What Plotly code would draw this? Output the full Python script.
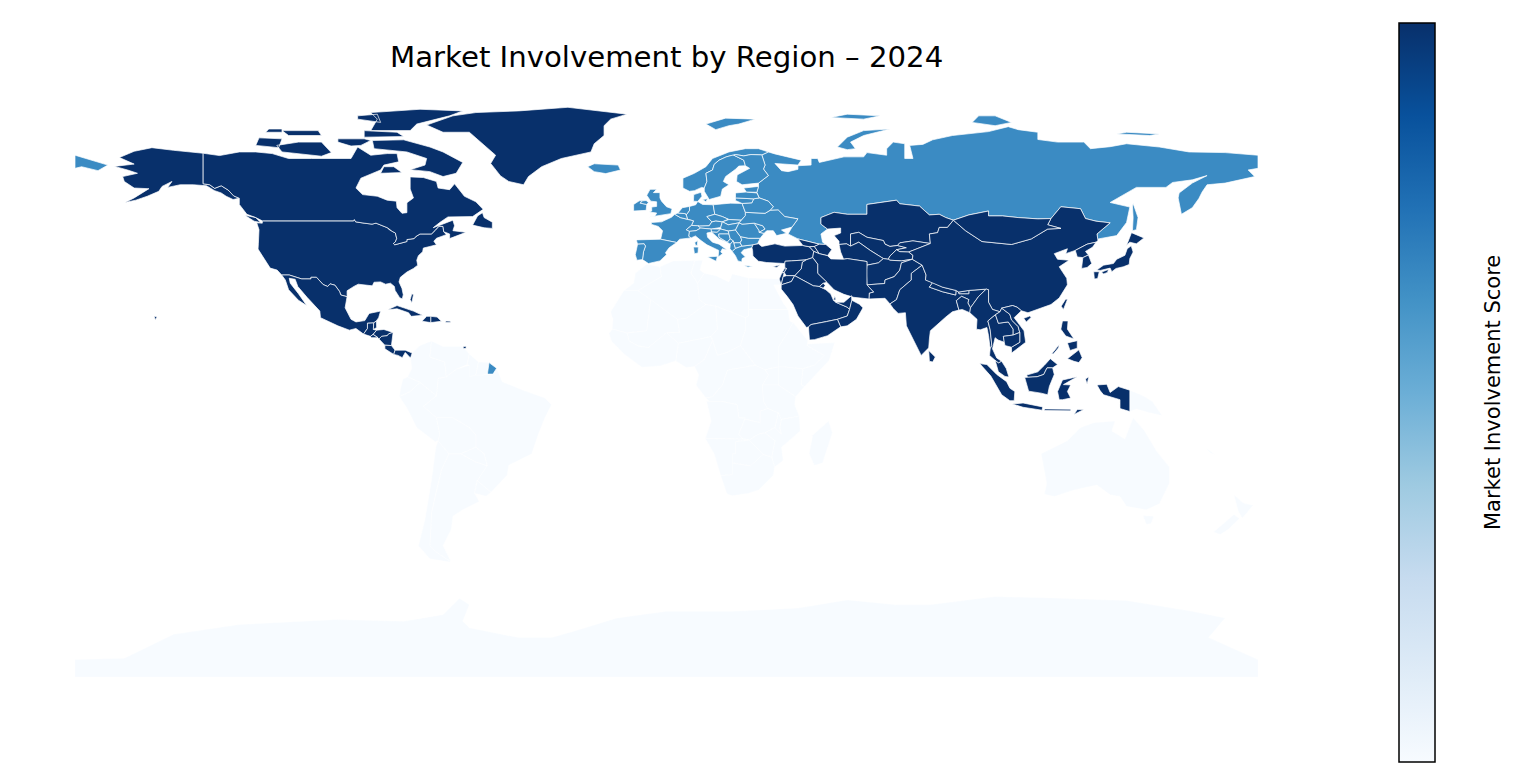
import plotly.colors as pc
import plotly.graph_objects as go

# The plotly geo basemap needs a CDN file and there is no network here, and no boundary
# data is installed. So the outlines below are hand-estimated, simplified lon/lat rings,
# NOT real survey borders, drawn as filled scatter traces (the reference's projection is
# plain equirectangular, so lon/lat axes give the same map). Some African entries are grouped.

title_text = "Market Involvement by Region – 2024"
colorbar_label = "Market Involvement Score"

# ---- scores per region ----
score_high = 100
score_mid = 65
score_low = 0

north_america = ["USA", "CAN", "GRL", "MEX", "GTM", "BLZ", "HND", "SLV", "NIC", "CRI", "PAN",
                 "CUB", "HTI", "DOM", "PRI", "BHS", "TTO"]
asia = ["KAZ", "UZB", "TKM", "KGZ", "TJK", "AFG", "PAK", "IND", "NPL", "BTN", "BGD", "LKA",
        "CHN", "MNG", "TWN", "PRK", "KOR", "JPN", "MMR", "THA", "LAO", "VNM", "KHM", "MYS",
        "IDN", "PHL", "TUR", "CYP", "GEO", "ARM", "AZE", "IRN", "IRQ", "SYR", "LBN", "ISR",
        "JOR", "SAU", "KWT", "QAT", "ARE", "OMN", "YEM"]
europe = ["RUS", "ISL", "IRL", "GBR", "NOR", "SWE", "FIN", "DNK", "DEU", "FRA", "BEL", "NLD",
          "CHE", "AUT", "ITA", "ESP", "PRT", "POL", "CZE", "SVK", "HUN", "SVN", "HRV", "BIH",
          "SRB", "MNE", "ALB", "MKD", "GRC", "BGR", "ROU", "MDA", "UKR", "BLR", "LTU", "LVA",
          "EST"]
rest = ["BRA", "ARG", "CHL", "PER", "COL", "VEN", "BOL", "PRY", "URY", "ECU", "GUY", "SUR",
        "MAR", "DZA", "TUN", "LBY", "EGY", "MRT", "MLI", "NER", "TCD", "SDN", "ETH", "SOM",
        "KEN", "UGA", "MWI", "NGA", "WAF", "CMR", "COD", "AGO", "TZA", "ZMB", "MOZ", "ZWE", "NAM", "BWA",
        "ZAF", "MDG", "AUS", "NZL", "PNG", "NCL", "ATA"]

# ---- shared borders ----
border_49 = [(-123, 49), (-95.2, 49), (-95, 49.4), (-94.6, 48.7), (-92, 48.3), (-89.6, 48), (-88.4, 48.3),
             (-84.9, 46.9), (-84.5, 46.4), (-83.5, 45.8), (-82.5, 45.3), (-82.1, 43.6), (-82.5, 42.6), (-83.1, 42.1),
             (-82.7, 41.7), (-79, 42.7), (-79, 43.3), (-76.8, 43.6), (-76.3, 44.2), (-75, 45),
             (-71.5, 45), (-70.3, 46.2), (-69.2, 47.4), (-68, 47.3), (-67.8, 45.7)]
border_alaska = [(-141, 69.6), (-141, 60.3), (-139, 60), (-137.5, 58.9), (-135.5, 59.7),
                 (-133.4, 58.4), (-131.7, 56.6), (-130, 55.9)]
border_mex = [(-117.1, 32.5), (-114.8, 32.5), (-111, 31.3), (-108.2, 31.3), (-108.2, 31.8),
              (-106.5, 31.8), (-104.5, 29.6), (-103.1, 29), (-102.4, 29.8), (-100.9, 29.4),
              (-99.5, 27.5), (-99.1, 26.4), (-97.2, 25.9)]

# ---- outlines (lon, lat), one list of rings per code ----
outlines = {
    "USA": [
        border_49 + [(-67, 44.8), (-70, 43.7), (-70.8, 42.8), (-70, 41.7), (-72, 41.2), (-74, 40.7),
                     (-74.2, 39.6), (-75.5, 38.4), (-76, 37), (-75.7, 35.5), (-77, 34.5), (-79, 33.4),
                     (-81, 31.8), (-81.4, 30.4), (-80.5, 28.4), (-80.1, 26.5), (-80.4, 25.2), (-81.2, 25.6),
                     (-82.6, 27.8), (-82.8, 29), (-84, 30), (-85.5, 29.7), (-87, 30.4), (-89, 30.3),
                     (-89.5, 29.2), (-91, 29.3), (-93.8, 29.7), (-95, 29.1), (-97.2, 27.7)]
        + border_mex[::-1] + [(-118.5, 34), (-120.6, 34.6), (-121.9, 36.6), (-122.5, 37.8), (-123.8, 39.5),
                              (-124.3, 40.4), (-124.2, 42), (-124.1, 44.5), (-124, 46.3), (-124.7, 48.4),
                              (-123, 48.3)],
        border_alaska + [(-131.9, 55.5), (-134, 56.5), (-135.5, 57.5), (-137.5, 58.2), (-140, 59.7),
                         (-144, 60), (-148, 60), (-151.8, 59.2), (-150.5, 61), (-153.5, 59.5), (-154.5, 58),
                         (-158, 56.5), (-161.5, 55.3), (-164.8, 54.6), (-162, 56), (-158.5, 58), (-157.5, 58.8),
                         (-162, 59), (-165, 61), (-165.5, 62.5), (-161, 63.5), (-164, 64.5), (-168, 65.6),
                         (-162, 66.3), (-163.7, 67.1), (-166.5, 68.3), (-162, 70.2), (-156.6, 71.3),
                         (-150, 70.5), (-145, 70)],
        [(-155.9, 20), (-155, 19.7), (-155.6, 18.9)],
    ],
    "CAN": [
        [(-141, 69.6), (-136, 68.9), (-130, 70), (-125, 70), (-120, 69.5), (-115, 68), (-108, 68), (-100, 68),
         (-96, 68), (-94, 71.5), (-90, 69), (-85, 69.5), (-82, 69.5), (-81.5, 67), (-86, 66), (-87, 64.5),
         (-93, 62), (-94.5, 59), (-92.5, 57), (-88, 56.5), (-85, 55.3), (-82.2, 55), (-82, 53), (-80.5, 51.3),
         (-79, 51.5), (-79, 54.5), (-77, 56), (-78, 58.7), (-78, 62.4), (-74, 62.2), (-70, 61), (-69.5, 59),
         (-66, 58.5), (-64.5, 60.3), (-61.5, 56.5), (-58, 54.8), (-55.8, 52.5), (-59, 50.3), (-66.5, 50.2),
         (-69, 48.5), (-71, 46.9), (-65, 49.2), (-64.5, 47.5), (-65, 46), (-61, 45.5), (-66, 43.6), (-66, 45)]
        + border_49[::-1] + [(-125, 50), (-127.7, 51), (-130, 54)] + border_alaska[::-1][:-1],
        [(-80, 73.7), (-72, 71.5), (-68, 70), (-62, 66.8), (-64, 63.5), (-68, 62.5), (-72, 64), (-78, 64.6),
         (-73.5, 66), (-73, 68), (-79, 70), (-89, 71), (-89.5, 73.5)],
        [(-118.6, 72), (-117, 70), (-105, 68.7), (-102, 69.8), (-105, 73), (-112, 73)],
        [(-125, 72), (-118, 71.3), (-117, 74), (-124, 74.3)],
        [(-90, 76.5), (-78, 76.5), (-76, 78.5), (-66, 81), (-62, 82.5), (-75, 83), (-90, 82), (-88, 80)],
        [(-94, 80), (-87, 79), (-88, 81.5), (-94, 81)],
        [(-92, 74.5), (-80, 74.7), (-82, 76), (-92, 76.5)],
        [(-115, 75), (-105, 75), (-106, 76.5), (-117, 76.5)],
        [(-122, 76), (-117, 76), (-117, 77), (-121, 77)],
        [(-100, 73), (-96, 71.8), (-93, 72), (-90, 73.5), (-92, 74), (-100, 74)],
        [(-59, 47.7), (-55.5, 46.9), (-53, 46.7), (-53, 48.6), (-55.5, 50), (-56, 51.5), (-57.5, 50.5)],
        [(-128.3, 50.7), (-125, 50), (-123.5, 48.5), (-125.5, 48.9)],
        [(-87, 63.5), (-80.5, 63.7), (-83, 65.5), (-86, 65.5)],
    ],
    "GRL": [[(-73, 78.2), (-68, 76), (-60, 76), (-55, 71.5), (-52, 69), (-53.5, 66.5), (-50.5, 62.7), (-48, 61),
             (-43.5, 60), (-42, 62.5), (-38, 65.5), (-32, 68), (-23, 70), (-22, 72.5), (-19, 75), (-19, 78),
             (-17, 80), (-12, 81.5), (-30, 83.6), (-45, 82.5), (-58, 82), (-65, 81), (-68, 80)]],
    "MEX": [border_mex + [(-97.8, 22.5), (-96, 19), (-94.5, 18.2), (-91.8, 18.6), (-90.5, 20.8), (-87, 21.5),
                          (-87.6, 19.5), (-88.3, 18.5), (-89.1, 17.9), (-91, 17.8), (-91, 16.2), (-92.2, 14.5),
                          (-94.5, 16.2), (-96.5, 15.7), (-100, 17), (-105.3, 19.5), (-105.5, 21.5), (-109.4, 25.7),
                          (-112.2, 29), (-113, 31.2), (-114.8, 31.5), (-114.5, 30), (-112, 26.8), (-109.5, 23.2),
                          (-112, 24.8), (-115, 28), (-116, 31)]],
    "GTM": [[(-92.2, 14.5), (-91, 16.2), (-91, 17.8), (-89.1, 17.9), (-89.2, 15.9), (-88.2, 15.7), (-89.3, 14.4), (-90.1, 13.8)]],
    "BLZ": [[(-88.3, 18.5), (-88.2, 16.5), (-89.2, 15.9), (-89.1, 17.9)]],
    "HND": [[(-88.2, 15.7), (-86, 15.9), (-83.2, 15), (-84.5, 14.6), (-85, 14), (-86.7, 13.8), (-87.5, 13), (-87.8, 13.4), (-89.3, 14.4)]],
    "SLV": [[(-89.3, 14.4), (-87.8, 13.4), (-89.8, 13.4), (-90.1, 13.8)]],
    "NIC": [[(-83.2, 15), (-83.7, 11), (-85.7, 11.1), (-87.5, 13), (-86.7, 13.8), (-85, 14), (-84.5, 14.6)]],
    "CRI": [[(-85.7, 11.1), (-83.7, 11), (-82.6, 9.6), (-83, 8.3), (-85.7, 10)]],
    "PAN": [[(-83, 8.3), (-82.6, 9.6), (-79.5, 9.6), (-77.4, 8.7), (-77.9, 7.2), (-79.5, 8.9), (-80.4, 7.3), (-81.7, 8)]],
    "CUB": [[(-84.9, 21.9), (-82, 23.2), (-77, 21.5), (-74.2, 20.2), (-77.7, 19.9), (-78.5, 21), (-82, 22.2)]],
    "HTI": [[(-74.4, 18.4), (-71.7, 18), (-71.7, 19.9), (-73, 19.9)]],
    "DOM": [[(-71.7, 18), (-68.5, 18.4), (-69.8, 19.7), (-71.7, 19.9)]],
    "PRI": [[(-67.2, 18.5), (-65.7, 18.4), (-65.8, 18), (-67.2, 18)]],
    "BHS": [[(-78, 25), (-77.5, 26.8), (-77, 26.5), (-77.5, 24)]],
    "TTO": [[(-61.9, 10.1), (-61, 10.1), (-61, 10.8), (-61.8, 10.7)]],

    "RUS": [
        [(28, 60.5), (31, 62.8), (29.5, 64.8), (30, 66), (29, 69.1), (31, 70), (33, 69.4), (41, 67.5), (40, 66),
         (35, 66.5), (33, 66.5), (35, 64.3), (37, 64), (40, 64.7), (40, 65.8), (44, 66), (44, 68), (46, 68),
         (46.5, 66.8), (54, 68.5), (60, 68.5), (61, 69.8), (67, 69), (67, 71), (69, 73), (72.5, 72.5), (72.5, 68),
         (75, 68), (74, 72), (78, 72.3), (81, 73.7), (87, 75), (98, 76.2), (104, 77.7), (107, 76.8), (113, 76),
         (113, 73.8), (119, 73), (127, 73), (129, 71), (135, 71.6), (140, 72.5), (150, 71.5), (159, 70), (170, 69.8),
         (180, 69), (180, 65), (177, 64.5), (179, 62.5), (170, 60.5), (164.5, 60), (163, 57.8), (162, 55.8),
         (160, 53), (156.7, 51), (155.7, 56), (156, 57.5), (160, 60.5), (164.5, 62.8), (160, 61.5), (154, 60.7),
         (152, 59.2), (143, 59.2), (135, 54.6), (141, 53.2), (140, 48.5), (137, 44.5), (131.4, 43.5), (131.3, 43), (131, 45), (135, 48.4), (130.7, 48.9),
         (127.5, 49.7), (126, 52.7), (120, 53.3), (117, 49.7), (113, 49.6), (107, 50), (102.3, 50.5), (98, 50.5),
         (98, 52), (92, 50.8), (87.3, 49.2), (85, 50), (83, 51), (80, 50.8), (77, 53.5), (71, 54.2), (70, 55.3),
         (61, 54), (61, 51), (55, 51), (51, 51.6), (47, 50), (47, 48), (49, 46.5), (47, 45), (47.5, 42.5), (48.5, 41.8),
         (46.5, 41.9), (43.5, 42.6), (40, 43.5), (37, 45), (38.2, 47.1), (40, 49.6), (36, 50.3), (34, 52.3),
         (31.5, 52.2), (32.5, 53.3), (31, 55), (28.2, 56), (27.5, 57.5), (27.5, 57.7), (28, 59.5)],
        [(-180, 69), (-175, 67.5), (-170, 66), (-173, 64.3), (-178, 65.5), (-180, 65)],
        [(52, 71.5), (55, 70.7), (57.5, 71), (56, 73), (60, 75), (68, 77), (60, 76.5), (55, 74.5)],
        [(142, 54.3), (143.5, 50), (143, 46.3), (141.8, 46), (142, 50), (141.8, 53.5)],
        [(50, 80.5), (60, 80), (65, 81), (55, 81.5)],
        [(93, 79), (100, 78), (105, 79), (100, 81), (95, 81)],
        [(137, 75.5), (147, 75), (150, 75.5), (140, 76)],
    ],
    "ISL": [[(-24, 65.5), (-22, 64), (-18.5, 63.4), (-14, 64.5), (-14.7, 66), (-18, 66.2), (-22, 66.4)]],
    "IRL": [[(-10, 52), (-6.2, 52.2), (-6, 54), (-8, 54.4), (-7.3, 55.1), (-8.3, 55.1), (-10, 54)]],
    "GBR": [
        [(-5.5, 50.1), (-1, 50.7), (1.3, 51.2), (1.7, 52.7), (0, 53.3), (-1.5, 55), (-2, 56), (-2, 57.6), (-4, 57.6),
         (-3, 58.6), (-5, 58.6), (-6, 56.8), (-4.8, 55), (-3, 54.8), (-3, 53.4), (-4.5, 53.2), (-4.5, 52), (-5.2, 51.7),
         (-3, 51.4), (-3.5, 50.5)],
        [(-6, 54), (-5.5, 54.6), (-6.2, 55.2), (-7.3, 55.1), (-8, 54.4)],
    ],
    "NOR": [
        [(5, 59), (7, 58), (8.5, 58.2), (10.7, 59.2), (11.5, 59), (12.3, 61), (12, 63.5), (14, 64.5), (14.5, 66.2),
         (16, 67.5), (18.2, 68.5), (20, 69), (21, 69.2), (23.5, 68.8), (25.7, 69.2), (29, 69.1), (31, 70), (28, 71),
         (24, 71), (19, 70), (14, 68), (12, 65.5), (8.5, 63.5), (5, 62)],
        [(12, 78.5), (15, 76.8), (19, 78), (22, 78.5), (27, 80), (18, 80.3)],
    ],
    "SWE": [[(11.5, 59), (11.5, 58), (13, 55.5), (14.5, 56), (16.5, 56.5), (17, 58.7), (19, 60), (17.3, 61), (18, 62.5),
             (21, 64.7), (22, 65.7), (24, 65.8), (23.5, 67.5), (20.5, 69), (20, 69), (18.2, 68.5), (16, 67.5),
             (14.5, 66.2), (14, 64.5), (12, 63.5), (12.3, 61)]],
    "FIN": [[(24, 65.8), (25.3, 65), (21.5, 63), (21.3, 61), (23, 60), (26, 60.4), (28, 60.5), (31, 62.8), (29.5, 64.8),
             (30, 66), (29, 69.1), (25.7, 69.2), (23.5, 68.8), (21, 69.2), (20.5, 69), (23.5, 67.5)]],
    "DNK": [[(8.2, 55), (9.5, 54.9), (10.8, 56.5), (10.5, 57.7), (8.3, 57)], [(11, 55.5), (12.5, 55.7), (12, 54.8)]],
    "DEU": [[(7, 53.4), (8.9, 53.9), (9.5, 54.9), (11, 54), (14.2, 53.9), (14.7, 51), (12.3, 50.3), (13.8, 48.7),
             (13, 47.5), (10, 47.4), (7.6, 47.6), (8.2, 49), (6.4, 49.5), (6, 50.8), (7, 52.2)]],
    "FRA": [
        [(-4.7, 48.5), (-1.5, 48.7), (1.5, 50.1), (2.5, 51), (4.2, 50), (6.4, 49.5), (8.2, 49), (7.6, 47.6), (6, 46.3),
         (7, 45.8), (6.8, 44.3), (7.5, 43.8), (4, 43.4), (3.1, 42.4), (-1.8, 43.4), (-1.2, 46), (-2.5, 47.3), (-4.5, 47.9)],
        [(8.6, 42.4), (9.5, 43), (9.4, 41.5), (8.8, 41.6)],
        [(-54.5, 2.3), (-54, 5.8), (-51.7, 4.1), (-52.8, 2.3)],
    ],
    "BEL": [[(2.5, 51), (3.5, 51.4), (5.8, 51.2), (6, 50.8), (6.4, 49.5), (4.2, 50)]],
    "NLD": [[(3.5, 51.4), (4.8, 53), (7, 53.4), (7, 52.2), (6, 50.8), (5.8, 51.2)]],
    "CHE": [[(6, 46.3), (7.6, 47.6), (9.6, 47.5), (10.4, 46.8), (9, 46), (7, 45.8)]],
    "AUT": [[(9.6, 47.5), (10, 47.4), (13, 47.5), (13.8, 48.7), (15, 49), (17, 48.7), (16.5, 47), (13.6, 46.5), (10.4, 46.8)]],
    "ITA": [
        [(7, 45.8), (9, 46), (10.4, 46.8), (13.6, 46.5), (13.7, 45.6), (12.3, 45.3), (12.5, 44), (14, 42.5), (16, 41.9),
         (18.5, 40.1), (17, 40.5), (16.5, 39.5), (17.1, 39), (15.7, 38), (15.9, 40), (14, 40.8), (12.3, 41.7), (10.5, 43),
         (8.8, 44.4), (7.5, 43.8), (6.8, 44.3)],
        [(12.5, 38), (15.5, 38.2), (15.1, 36.7)],
        [(8.2, 41), (9.7, 41), (9.6, 39.2), (8.5, 39)],
    ],
    "ESP": [[(-9.2, 43.2), (-1.8, 43.4), (3.1, 42.4), (0.8, 40.8), (-0.3, 39.3), (0, 38.7), (-2, 36.8), (-5.5, 36),
             (-7.3, 37.2), (-7, 39.6), (-6.4, 41.3), (-6.8, 42), (-8.8, 41.9)]],
    "PRT": [[(-8.8, 41.9), (-6.8, 42), (-6.4, 41.3), (-7, 39.6), (-7.3, 37.2), (-9, 37), (-9.5, 38.7)]],
    "POL": [[(14.2, 53.9), (19.5, 54.4), (23, 54.3), (24, 51.6), (24, 50.6), (22.7, 49.2), (19, 49.4), (17, 50.3), (14.7, 51)]],
    "CZE": [[(12.3, 50.3), (14.7, 51), (17, 50.3), (18.8, 49.5), (17, 48.7), (15, 49), (13.8, 48.7)]],
    "SVK": [[(17, 48.7), (18.8, 49.5), (19, 49.4), (22.7, 49.2), (22.1, 48.4), (18.8, 47.8)]],
    "HUN": [[(16.5, 47), (17, 48.7), (18.8, 47.8), (22.1, 48.4), (21, 46.2), (18.8, 45.9), (16.5, 46.5)]],
    "SVN": [[(13.6, 46.5), (16.5, 46.5), (15.4, 45.5), (13.7, 45.6)]],
    "HRV": [[(13.7, 45.6), (15.4, 45.5), (16.5, 46.5), (18.8, 45.9), (19, 45), (15.9, 45), (16, 44), (18.5, 42.5), (16, 43.5), (14.5, 45)]],
    "BIH": [[(15.9, 45), (19, 45), (19.4, 43.5), (18.5, 42.5), (16, 44)]],
    "SRB": [[(18.8, 45.9), (21, 46.2), (22.5, 44.2), (22.9, 43.2), (22.4, 42.3), (20.6, 42.3), (20.3, 42.9), (19.4, 43.5), (19, 45)]],
    "MNE": [[(18.5, 42.5), (19.4, 43.5), (20.3, 42.9), (19.4, 41.9)]],
    "ALB": [[(19.4, 41.9), (20.3, 42.9), (20.6, 41.9), (21, 40.6), (20, 39.7), (19.3, 40.5)]],
    "MKD": [[(20.6, 41.9), (20.6, 42.3), (22.4, 42.3), (23, 41.3), (21, 40.6)]],
    "GRC": [
        [(20, 39.7), (21, 40.6), (23, 41.3), (26.3, 41.7), (26, 40.8), (23.5, 40.2), (22.7, 39.3), (24, 38), (23, 37.5),
         (22.9, 36.5), (21.7, 36.8), (21, 38.3)],
        [(23.5, 35.5), (26.2, 35.2), (24.8, 34.9)],
    ],
    "BGR": [[(22.9, 43.2), (22.5, 44.2), (25, 43.7), (28.5, 43.7), (27.7, 42), (26.3, 41.7), (23, 41.3), (22.4, 42.3)]],
    "ROU": [[(21, 46.2), (22.1, 48.4), (23, 48), (26.7, 48.3), (28.2, 46), (28.2, 45.5), (29.7, 45.2), (28.5, 43.7), (25, 43.7), (22.5, 44.2)]],
    "MDA": [[(26.7, 48.3), (29.3, 47.5), (30, 46.5), (28.2, 45.5), (28.2, 46)]],
    "UKR": [[(22.1, 48.4), (22.7, 49.2), (24, 50.6), (24, 51.6), (30, 51.3), (31.5, 52.2), (34, 52.3), (36, 50.3), (40, 49.6),
             (38.2, 47.1), (35, 46.2), (36.5, 45.2), (33.5, 44.5), (32.5, 46), (30.5, 46), (29.7, 45.2), (28.2, 45.5),
             (30, 46.5), (29.3, 47.5), (26.7, 48.3), (23, 48)]],
    "BLR": [[(24, 51.6), (23, 54.3), (26, 54.5), (26.5, 55.7), (28.2, 56), (31, 55), (32.5, 53.3), (31.5, 52.2), (30, 51.3)]],
    "LTU": [[(21, 56), (26.5, 55.7), (26, 54.5), (23, 54.3), (21, 55.2)]],
    "LVA": [[(21, 56), (21, 57.5), (24.3, 57.8), (27.5, 57.7), (27.5, 57.5), (28.2, 56), (26.5, 55.7)]],
    "EST": [[(23.5, 59), (28, 59.5), (27.5, 57.7), (24.3, 57.8)]],

    "KAZ": [[(47, 50), (51, 51.6), (55, 51), (61, 51), (61, 54), (70, 55.3), (71, 54.2), (77, 53.5), (80, 50.8), (83, 51),
             (85, 50), (87.3, 49.2), (85.5, 47), (83, 47), (82.5, 45.4), (80, 45), (80.3, 42.1), (75, 42.9), (71, 42.3),
             (70.3, 41.5), (68, 41.2), (66.5, 41.9), (66, 43), (61, 44), (58.5, 45.5), (56, 45), (56, 41.3), (54.8, 42),
             (52.5, 41.8), (52.5, 42.8), (51, 44.5), (53, 45.3), (53, 46.8), (49, 46.5), (47, 48)]],
    "UZB": [[(56, 45), (58.5, 45.5), (61, 44), (66, 43), (66.5, 41.9), (68, 41.2), (70.3, 41.5), (73, 40.8), (70, 40.2),
             (68, 38.3), (67.5, 37.3), (66, 37.5), (62, 40), (58.5, 42.5), (56, 41.3)]],
    "TKM": [[(52.5, 41.8), (54.8, 42), (56, 41.3), (58.5, 42.5), (62, 40), (66, 37.5), (64.5, 36.2), (61, 35.5), (61, 36.6),
             (55, 37.5), (53.9, 37.3), (53, 39.5)]],
    "KGZ": [[(70.3, 41.5), (71, 42.3), (75, 42.9), (80.3, 42.1), (76, 40.4), (73.7, 39.5), (71, 39.6), (70, 40.2), (73, 40.8)]],
    "TJK": [[(70, 40.2), (71, 39.6), (73.7, 39.5), (75, 38.5), (74.8, 37.3), (71.5, 36.8), (68, 37), (67.5, 37.3), (68, 38.3)]],
    "AFG": [[(61, 35.5), (64.5, 36.2), (66, 37.5), (67.5, 37.3), (68, 37), (71.5, 36.8), (74.8, 37.3), (71.5, 36.2), (71, 34),
             (69.3, 32), (66.5, 31), (66.4, 29.9), (61, 29.5), (60.8, 33.5)]],
    "PAK": [[(61, 29.5), (66.4, 29.9), (66.5, 31), (69.3, 32), (71, 34), (71.5, 36.2), (74.8, 37.3), (77.8, 35.5), (74.5, 33),
             (74.5, 31), (71, 28), (70, 25), (68, 23.7), (66.5, 25.4), (61.6, 25.2), (61.7, 27), (63, 27.3)]],
    "IND": [[(74.5, 33), (77.8, 35.5), (79, 32.5), (78.8, 31), (81, 30.2), (80, 28.8), (84, 27.4), (88, 26.4), (88.1, 27.8),
             (88.9, 27.3), (89, 26.8), (92, 26.8), (92, 27.8), (97.3, 28.2), (95, 26), (93.5, 24), (92.5, 22.5), (91.7, 24),
             (92, 25), (89.8, 26), (88.2, 24.7), (89, 21.8), (87, 21.3), (85, 19.7), (80.3, 15.5), (80, 13), (79.8, 10.3),
             (77.5, 8), (76, 11), (73, 17), (72.7, 21), (70.5, 20.8), (69, 22.3), (68, 23.7), (70, 25), (71, 28), (74.5, 31)]],
    "NPL": [[(80, 28.8), (81, 30.2), (84, 28.8), (88.1, 27.8), (88, 26.4), (84, 27.4)]],
    "BTN": [[(88.9, 27.3), (92, 27.8), (92, 26.8), (89, 26.8)]],
    "BGD": [[(88.2, 24.7), (89.8, 26), (92, 25), (91.7, 24), (92.5, 22.5), (92.3, 21), (90, 22), (89, 21.8)]],
    "LKA": [[(79.8, 9.5), (81.8, 7.5), (81, 6), (80, 6.2)]],
    "CHN": [
        [(73.7, 39.5), (76, 40.4), (80.3, 42.1), (80, 45), (82.5, 45.4), (83, 47), (85.5, 47), (87.3, 49.2), (91, 46), (96, 42.7),
         (105, 41.8), (111, 43.5), (116, 46.5), (120, 46.7), (116, 47.8), (117, 49.7), (120, 53.3), (126, 52.7), (127.5, 49.7),
         (130.7, 48.9), (135, 48.4), (131, 45), (131.3, 43), (130.7, 42.5), (128, 41.9), (124.4, 40), (121.5, 39), (122, 40.5),
         (118, 39), (119, 37.3), (122.5, 37), (119.5, 35), (121.8, 31.5), (122, 29.5), (119.5, 25.5), (117, 23.5), (113.5, 22.3),
         (110, 21), (108, 21.6), (106.7, 22.7), (105.3, 23.2), (102, 22.4), (101.5, 21.3), (99.2, 22), (98, 24.2), (98, 28),
         (97.3, 28.2), (92, 27.8), (88.9, 27.3), (88.1, 27.8), (84, 28.8), (81, 30.2), (78.8, 31), (79, 32.5), (77.8, 35.5),
         (74.8, 37.3), (75, 38.5)],
        [(108.7, 19.3), (110.5, 20), (111, 19.6), (109.5, 18.2)],
    ],
    "MNG": [[(87.3, 49.2), (91, 46), (96, 42.7), (105, 41.8), (111, 43.5), (116, 46.5), (120, 46.7), (116, 47.8), (117, 49.7),
             (113, 49.6), (107, 50), (102.3, 50.5), (98, 50.5), (98, 52), (92, 50.8)]],
    "TWN": [[(120.1, 23), (121.5, 25.2), (122, 25), (120.8, 22)]],
    "PRK": [[(124.4, 40), (128, 41.9), (130.7, 42.5), (129.7, 41), (127.5, 39.7), (128.4, 38.6), (126.7, 37.8), (125, 38)]],
    "KOR": [[(126.7, 37.8), (128.4, 38.6), (129.4, 36), (128, 34.8), (126.3, 34.5)]],
    "JPN": [
        [(130.9, 34), (133, 35.5), (136, 36), (137, 37.3), (139.5, 38.5), (140.2, 40.5), (141.4, 41.4), (142, 39.5), (141, 37.5),
         (140.8, 35.7), (139, 35), (136.8, 34.5), (135.5, 33.5), (135, 34.6), (132, 33.9)],
        [(140, 41.5), (141.5, 45.4), (145.3, 43.8), (143, 42), (141, 42.5)],
        [(130, 33.5), (131.7, 33.5), (131.2, 31.4), (130.2, 31.3)],
        [(132.4, 33.4), (134.5, 34.2), (134.2, 33.3), (133, 32.8)],
    ],
    "MMR": [[(92.5, 22.5), (93.5, 24), (95, 26), (97.3, 28.2), (98, 28), (98, 24.2), (99.2, 22), (101.5, 21.3), (100.1, 20.4),
             (97.8, 18.5), (98.5, 15.8), (99, 11), (98.5, 10), (98, 14), (97.5, 16.5), (95.5, 15.8), (94.3, 16), (94.5, 19), (92.3, 21)]],
    "THA": [[(97.8, 18.5), (100.1, 20.4), (101, 17.8), (104, 18.2), (105.5, 16), (105.5, 14.2), (102.5, 13.8), (102.8, 12),
             (100.9, 12.7), (100, 13.4), (99.2, 10), (100.5, 7.2), (102, 6.2), (101, 5.7), (100, 6.5), (98.3, 8), (98.5, 10),
             (99, 11), (98.5, 15.8)]],
    "LAO": [[(100.1, 20.4), (101.5, 21.3), (102, 22.4), (104.5, 20.5), (105, 18.8), (107, 16.8), (107.5, 15), (105.5, 14.2),
             (105.5, 16), (104, 18.2), (101, 17.8)]],
    "VNM": [[(102, 22.4), (105.3, 23.2), (106.7, 22.7), (108, 21.6), (105.8, 19.5), (108.8, 15.5), (109.3, 12), (107, 10.3),
             (105, 8.7), (105, 10.5), (107.5, 12), (107.5, 15), (107, 16.8), (105, 18.8), (104.5, 20.5)]],
    "KHM": [[(102.5, 13.8), (105.5, 14.2), (107.5, 15), (107.5, 12), (105, 10.5), (103, 11), (102.8, 12)]],
    "MYS": [
        [(100, 6.5), (101, 5.7), (102, 6.2), (103.4, 4), (104.2, 1.4), (103, 1.6), (101, 3)],
        [(109.6, 2), (111.2, 2.5), (113, 3), (115, 5), (116.8, 7), (119, 5.2), (117.5, 4.2), (115.8, 4.2), (114.8, 2.2), (112.8, 1.5), (109.9, 1.3)],
    ],
    "IDN": [
        [(95.3, 5.5), (97.5, 5.2), (100.5, 2.2), (103.5, 0), (104.5, -2), (106, -3), (105.8, -5.8), (104.5, -5.8), (102, -4), (100.5, -1.5), (98.7, 1.7)],
        [(109, 1.3), (109.9, 1.3), (112.8, 1.5), (114.8, 2.2), (115.8, 4.2), (117.5, 4.2), (118, 2.2), (116.5, -1.5), (116, -4), (114, -3.5), (110.2, -2.9)],
        [(105.2, -6.8), (108.5, -6.5), (114.5, -7.7), (114.3, -8.7), (108.5, -7.8)],
        [(119.5, -5.5), (119, -3), (120.5, 0.5), (124.5, 1.2), (125, 1.5), (120.8, -0.9), (123, -1), (122, -3), (123, -5), (120.5, -5.5)],
        [(141, -2.6), (141, -9.1), (138, -8.2), (138, -5.5), (133, -4), (132, -2.8), (131, -1), (134, -0.8), (135, -3.3), (137.5, -1.5)],
        [(124, -10), (127, -8.5), (125, -8.5)],
        [(127.5, 0.8), (128.5, 1.5), (128, -0.8)],
        [(115, -8.3), (119, -8.3), (123, -8.4), (123, -8.9), (119, -8.9), (115, -8.8)],
    ],
    "PHL": [
        [(120.5, 18.5), (122.2, 18.5), (122, 16), (124, 13), (121.5, 13.9), (120, 16)],
        [(122, 7), (125.5, 9.7), (126.5, 7.3), (125.5, 5.8), (124, 6.2)],
        [(122, 11.8), (125, 12.5), (125, 10.2), (122.8, 9.5)],
        [(117.2, 8.4), (119.5, 11.3), (119.3, 10.3), (117.8, 8.5)],
    ],
    "TUR": [[(26.3, 41.7), (28, 42), (29, 41.2), (33, 42), (36, 41.3), (41.5, 41.5), (43.5, 41.1), (44.8, 39.7), (44.5, 37.8),
             (42.4, 37.1), (38, 36.8), (36.1, 36.7), (36, 36), (32.5, 36.1), (30.5, 36.3), (28, 36.7), (26.3, 38.3), (26.2, 40), (26, 40.8)]],
    "CYP": [[(32.3, 35), (34.5, 35.6), (33.6, 34.8)]],
    "GEO": [[(40, 43.5), (43.5, 42.6), (46.5, 41.9), (45, 41.2), (43.5, 41.1), (41.5, 41.5)]],
    "ARM": [[(43.5, 41.1), (45, 41.2), (46.5, 39), (44.8, 39.7)]],
    "AZE": [[(46.5, 41.9), (48.5, 41.8), (50.3, 40.3), (49, 38.4), (46.5, 39), (45, 41.2)]],
    "IRN": [[(44.8, 39.7), (46.5, 39), (49, 38.4), (50, 37.4), (53.9, 37.3), (55, 37.5), (61, 36.6), (61, 35.5), (60.8, 33.5),
             (61, 29.5), (63, 27.3), (61.7, 27), (61.6, 25.2), (57, 25.7), (54, 26.6), (51, 28), (48.8, 30.3), (46, 33), (46, 35.8), (44.5, 37.8)]],
    "IRQ": [[(42.4, 37.1), (44.5, 37.8), (46, 35.8), (46, 33), (48.8, 30.3), (47.7, 30), (46.5, 29), (44.7, 29.2), (39, 32.3), (41, 34.4), (41.3, 36.4)]],
    "SYR": [[(36, 36), (36.1, 36.7), (38, 36.8), (42.4, 37.1), (41.3, 36.4), (41, 34.4), (39, 32.3), (36.5, 32.3), (35.8, 33.3), (36.5, 34.5), (36, 34.6)]],
    "LBN": [[(35.1, 33.1), (36, 34.6), (36.5, 34.5), (35.8, 33.3)]],
    "ISR": [[(34.3, 31.3), (34.9, 29.5), (35.5, 32), (35.8, 33.3), (35.1, 33.1)]],
    "JOR": [[(34.9, 29.5), (38, 30.5), (39, 32.3), (36.5, 32.3), (35.5, 32)]],
    "SAU": [[(34.9, 29.5), (38, 30.5), (39, 32.3), (44.7, 29.2), (46.5, 29), (47.7, 28.5), (48.5, 28), (50, 26.7), (50.8, 24.8),
             (51.5, 24.2), (55, 22.7), (55.7, 22), (55, 20), (52, 19), (48.7, 18.3), (44, 17.4), (43.2, 16.7), (42.6, 16.5),
             (40, 20), (38.5, 23.5), (36.7, 26), (34.9, 28.2)]],
    "KWT": [[(46.5, 29), (47.7, 30), (48.3, 29.3), (47.7, 28.5)]],
    "QAT": [[(50.8, 24.8), (51.2, 26), (51.6, 25)]],
    "ARE": [[(51.5, 24.2), (54, 24.2), (56.3, 26.2), (56.4, 24.8), (55.7, 22), (55, 22.7)]],
    "OMN": [[(55.7, 22), (56.4, 24.8), (58.7, 23.6), (59.8, 22.5), (57.8, 19), (55, 17), (53, 16.7), (52, 19), (55, 20)]],
    "YEM": [[(43.2, 16.7), (44, 17.4), (48.7, 18.3), (52, 19), (53, 16.7), (49, 14), (45, 12.8), (43.5, 12.7)]],

    "BRA": [[(-60, 5), (-56, 2), (-54.5, 2.3), (-52.8, 2.3), (-51.7, 4.1), (-50, 0), (-44, -2.5), (-37, -5), (-35, -7), (-37, -11),
             (-39, -16), (-41, -22), (-48, -25.5), (-48.5, -28.5), (-53.4, -33.7), (-57.6, -30.2), (-54.6, -25.6), (-55.5, -22),
             (-58, -20), (-58, -16.3), (-60, -14), (-65, -11), (-70, -11), (-74, -7.5), (-70, -4.3), (-69.5, 1), (-67, 1.5), (-64, 3.8)]],
    "ARG": [[(-66.2, -22), (-62.6, -22), (-58, -24.5), (-54.6, -25.6), (-57.6, -30.2), (-58.4, -34), (-57, -36.5), (-62, -39),
             (-65, -41), (-65.5, -45), (-68, -50), (-65.5, -55), (-70, -52), (-72, -50), (-71.5, -40), (-70, -33), (-68.5, -27)]],
    "CHL": [[(-69.5, -18), (-66.2, -22), (-68.5, -27), (-70, -33), (-71.5, -40), (-72, -50), (-70, -52), (-65.5, -55),
             (-72, -54), (-75.5, -50), (-73.5, -42), (-71.5, -30), (-70.2, -20)]],
    "PER": [[(-81.3, -4.5), (-78, -3), (-75, -0.2), (-70, -4.3), (-74, -7.5), (-70, -11), (-69, -16), (-69.5, -18), (-70.4, -18.3), (-76, -14), (-79, -8)]],
    "COL": [[(-77.4, 8.7), (-75, 11), (-71.5, 12.4), (-72, 7.5), (-67.5, 6), (-67, 1.5), (-69.5, 1), (-70, -4.3), (-75, -0.2), (-78.8, 1.4), (-77.5, 4), (-77.9, 7.2)]],
    "VEN": [[(-71.5, 12.4), (-68, 10.7), (-62, 10.7), (-60, 8.4), (-60.7, 5.2), (-64, 3.8), (-67, 1.5), (-67.5, 6), (-72, 7.5)]],
    "BOL": [[(-69.5, -18), (-69, -16), (-70, -11), (-65, -11), (-60, -14), (-58, -16.3), (-58, -20), (-62.6, -22), (-66.2, -22)]],
    "PRY": [[(-62.6, -22), (-58, -20), (-55.5, -22), (-54.6, -25.6), (-58, -24.5)]],
    "URY": [[(-57.6, -30.2), (-53.4, -33.7), (-54.9, -34.9), (-58.4, -34)]],
    "ECU": [[(-80.2, 0.8), (-78.8, 1.4), (-75, -0.2), (-78, -3), (-81.3, -4.5), (-80.9, -2)]],
    "GUY": [[(-60, 8.4), (-57.2, 6), (-58, 2), (-60, 1.5), (-60, 5), (-60.7, 5.2)]],
    "SUR": [[(-57.2, 6), (-54, 5.8), (-54.5, 2.3), (-56, 2), (-58, 2)]],

    "MAR": [[(-6, 35.8), (-2, 35), (-1.5, 32), (-5, 30), (-8.7, 27.7), (-13, 27.7), (-10, 30), (-9.5, 33)]],
    "DZA": [[(-2, 35), (2, 36.8), (8.6, 36.9), (7.5, 33), (9.5, 30), (10, 25), (12, 23.5), (6, 19.3), (3.3, 19), (-4.8, 25), (-8.7, 27.7), (-5, 30), (-1.5, 32)]],
    "TUN": [[(8.6, 36.9), (11, 37), (10.2, 34), (11.5, 33), (9.5, 30), (7.5, 33)]],
    "LBY": [[(11.5, 33), (15, 32.3), (19, 30.4), (20, 32.8), (25, 31.6), (25, 20), (24, 19.5), (15, 23), (12, 23.5), (10, 25), (9.5, 30)]],
    "EGY": [[(25, 31.6), (31, 31.4), (34.3, 31.3), (34.9, 29.5), (32.6, 29.5), (35.5, 24), (37, 22), (25, 22)]],
    "MRT": [[(-17, 21.3), (-13, 27.7), (-8.7, 27.7), (-4.8, 25), (-6, 15.5), (-12, 14.8), (-16.5, 16), (-16.3, 19)]],
    "MLI": [[(-12, 14.8), (-6, 15.5), (-4.8, 25), (3.3, 19), (4, 15), (0, 14.9), (-5.5, 10.4), (-8.5, 10.8), (-11.4, 12.4)]],
    "NER": [[(3.3, 19), (6, 19.3), (12, 23.5), (15, 23), (15.5, 16), (13.5, 13.7), (3.6, 11.7), (0, 14.9), (4, 15)]],
    "TCD": [[(15, 23), (24, 19.5), (24, 15.7), (22.5, 11), (18.5, 8.9), (15.5, 8), (14, 12.5), (13.5, 13.7), (15.5, 16)]],
    "SDN": [[(24, 19.5), (25, 20), (25, 22), (37, 22), (37.5, 18.5), (38.5, 18), (36.5, 14.3), (34, 10.5), (34, 4.5), (30, 3.6), (27, 5), (22.5, 11), (24, 15.7)]],
    "ETH": [[(36.5, 14.3), (38.5, 18), (43, 12.5), (42.8, 11), (48, 8), (45, 5), (41.5, 3.9), (36, 4.5), (34, 4.5), (34, 10.5)]],
    "SOM": [[(43, 11.5), (51.2, 11.9), (49.5, 6.5), (42, -1.5), (41, -1), (41.5, 3.9), (45, 5), (48, 8), (42.8, 11)]],
    "KEN": [[(34, 4.5), (36, 4.5), (41.5, 3.9), (41, -1), (42, -1.5), (39.3, -4.6), (34, -1), (34, 1)]],
    "UGA": [[(31, 2), (30, 3.6), (34, 4.5), (34, 1), (34, -1), (29.2, -1)]],
    "MWI": [[(33, -14), (34, -9.5), (35, -11.5), (34.5, -14), (35, -16)]],
    "NGA": [[(3.6, 11.7), (13.5, 13.7), (14, 12.5), (11.5, 6.7), (8.5, 4.6), (6, 4.3), (2.8, 6.3)]],
    "WAF": [[(-17.5, 14.7), (-16.5, 16), (-12, 14.8), (-11.4, 12.4), (-8.5, 10.8), (-5.5, 10.4), (0, 14.9), (3.6, 11.7), (2.8, 6.3),
             (-2, 4.8), (-7.5, 4.4), (-13, 8.5), (-16.7, 12.3)]],
    "CMR": [[(8.5, 4.6), (11.5, 6.7), (14, 12.5), (15.5, 8), (18.5, 8.9), (22.5, 11), (27, 5), (18.6, 3.5), (17, -1), (14, -4.6), (12, -5), (9, -1), (9.8, 2)]],
    "COD": [[(12, -5), (14, -4.6), (17, -1), (18.6, 3.5), (27, 5), (30, 3.6), (31, 2), (29.2, -1), (29.5, -6), (30.8, -8.2), (28.5, -9), (28.5, -12.5),
             (22, -11), (21.5, -7), (16.5, -6), (13, -6)]],
    "AGO": [[(12.2, -6), (13, -6), (16.5, -6), (21.5, -7), (22, -11), (24, -11), (22, -16), (23.3, -17.5), (11.8, -17.3), (13.6, -12)]],
    "TZA": [[(29.2, -1), (34, -1), (39.3, -4.6), (39, -7), (40.4, -10.5), (35, -11.5), (34, -9.5), (30.8, -8.2), (29.5, -6)]],
    "ZMB": [[(22, -11), (28.5, -12.5), (28.5, -9), (30.8, -8.2), (34, -9.5), (33, -14), (30, -15.6), (28, -16), (25.2, -17.8), (23.3, -17.5), (22, -16), (24, -11)]],
    "MOZ": [[(35, -11.5), (40.4, -10.5), (40.7, -15), (35, -20), (35.5, -24), (32.9, -26), (32, -23), (33, -18), (30, -15.6), (33, -14), (35, -16), (34.5, -14)]],
    "ZWE": [[(25.2, -17.8), (28, -16), (30, -15.6), (33, -18), (32, -23), (29.4, -22.2)]],
    "NAM": [[(11.8, -17.3), (23.3, -17.5), (25.2, -17.8), (21, -18.3), (21, -22), (20, -22), (20, -28.4), (16.5, -28.6), (14.5, -22)]],
    "BWA": [[(21, -18.3), (25.2, -17.8), (29.4, -22.2), (25.5, -25.7), (20, -24.8), (20, -22), (21, -22)]],
    "ZAF": [[(16.5, -28.6), (20, -28.4), (20, -24.8), (25.5, -25.7), (29.4, -22.2), (32, -23), (32.9, -26), (32.5, -28.5), (28, -33), (25, -34), (20, -34.8), (18.4, -34.2)]],
    "MDG": [[(49.3, -12), (50.5, -15.5), (47.5, -24.8), (45, -25.5), (43.4, -22), (44.5, -16.3)]],

    "AUS": [
        [(114, -22), (122, -18), (126, -14), (130, -12.5), (136.5, -12), (135.5, -15), (139.5, -17.5), (142, -11), (145.5, -15),
         (149, -21), (153, -26), (153, -31), (150, -37.2), (146, -39), (140, -38), (138, -35), (135, -34.5), (131, -31.5),
         (124, -33), (118, -35), (115, -34.3), (115.7, -31)],
        [(145, -40.8), (148.3, -41), (147.5, -43.2), (146, -43.5)],
    ],
    "NZL": [
        [(172.7, -34.5), (175.5, -37), (178.5, -37.7), (175.2, -41.6), (174, -39.5)],
        [(172.7, -40.5), (174.3, -41.7), (171, -45), (168.5, -46.6), (166.5, -45.8)],
    ],
    "PNG": [[(141, -2.6), (145, -4.3), (147.8, -6), (150.8, -10.3), (147, -9.5), (143, -8.3), (141, -9.1)]],
    "NCL": [[(164, -20.1), (167, -22.3), (165.5, -21.7)]],
    "ATA": [[(-180, -84.7), (-165, -84.3), (-150, -77), (-130, -74), (-100, -72.5), (-80, -73), (-68, -71), (-63, -66),
             (-60, -68), (-62, -73), (-60, -75), (-45, -78), (-35, -78), (-28, -76), (-15, -72), (0, -70), (20, -70), (40, -69), (55, -66.5),
             (70, -68), (80, -68), (100, -65.5), (120, -66), (140, -66.7), (160, -70), (170, -72), (165, -78), (180, -84.7),
             (180, -90), (-180, -90)]],
}

# page sits 8px in from the window edge (body margin)
PAGE_W, PAGE_H = 1520, 777
PLOT_W, PLOT_H = PAGE_W - 16, PAGE_H - 16


def frac_x(px):
    return (px - 8) / PLOT_W


def frac_y(px):
    return 1 - (px - 8) / PLOT_H


def add_region(fig, codes, score, line_width=0.7):
    color = pc.sample_colorscale("Blues", [score / 100])[0]
    for code in codes:
        xs, ys = [], []
        for ring in outlines[code]:
            closed = ring + ring[:1]
            xs += [p[0] for p in closed] + [None]
            ys += [p[1] for p in closed] + [None]
        fig.add_trace(go.Scatter(
            x=xs, y=ys, mode="lines", fill="toself", fillcolor=color,
            line=dict(color="white", width=line_width), name=code, hoveron="fills",
            hoverinfo="text", text=f"{code}: {score}", showlegend=False,
        ))


fig = go.Figure()
add_region(fig, rest, score_low, line_width=0.4)
add_region(fig, europe, score_mid)
add_region(fig, north_america, score_high)
add_region(fig, asia, score_high)

# empty trace, only there to carry the colorbar
fig.add_trace(go.Scatter(
    x=[None], y=[None], mode="markers", showlegend=False, hoverinfo="skip",
    marker=dict(
        color=[score_low], cmin=0, cmax=100, colorscale="Blues", showscale=True,
        colorbar=dict(
            lenmode="pixels", len=739,
            thicknessmode="pixels", thickness=36,
            x=frac_x(1398.5), xanchor="left", xpad=0,
            y=frac_y(23), yanchor="top", ypad=0,
            ticks="", showticklabels=False,
            outlinecolor="black", outlinewidth=1.5,
        ),
    ),
))

fig.update_xaxes(range=[-180, 180], domain=[frac_x(75), frac_x(1258)], visible=False)
fig.update_yaxes(range=[-90, 84], domain=[frac_y(677), frac_y(106)], visible=False)

fig.update_layout(
    width=PLOT_W,
    height=PLOT_H,
    margin=dict(l=0, r=0, t=0, b=0),
    paper_bgcolor="white",
    plot_bgcolor="white",
    font_family="DejaVu Sans",
    annotations=[
        dict(text=title_text, x=frac_x(666), y=frac_y(57), xref="paper", yref="paper", showarrow=False,
             xanchor="center", yanchor="middle", font=dict(size=29.2, color="black")),
        dict(text=colorbar_label, x=frac_x(1493), y=frac_y(393), xref="paper", yref="paper", showarrow=False,
             textangle=-90, xanchor="center", yanchor="middle", font=dict(size=21, color="black")),
    ],
)

fig.write_html("out.html")
